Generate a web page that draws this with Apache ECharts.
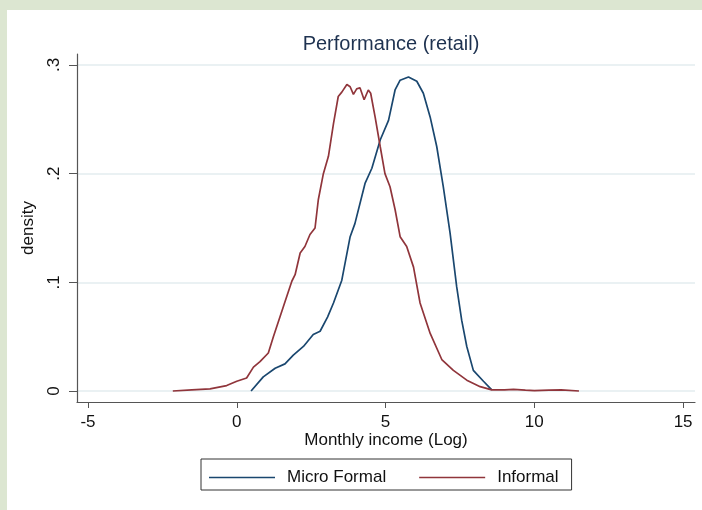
<!DOCTYPE html>
<html>
<head>
<meta charset="utf-8">
<script src="https://cdn.jsdelivr.net/npm/echarts@6/dist/echarts.min.js"></script>
<style>
  html, body { margin: 0; padding: 0; background: #dce6d1; }
  #chart { position: absolute; left: 7px; top: 10px; width: 695px; height: 500px; background: #fff; }
</style>
</head>
<body>
<div id="chart"></div>
<script>
// kernel density points: [log income, density]
const microFormal = [
  [0.48, 0], [0.89, 0.013], [1.29, 0.021], [1.62, 0.025], [1.90, 0.033],
  [2.24, 0.041], [2.57, 0.052], [2.80, 0.055], [3.05, 0.068], [3.25, 0.081],
  [3.53, 0.102], [3.81, 0.142], [3.97, 0.154], [4.31, 0.191], [4.54, 0.205],
  [4.82, 0.231], [5.10, 0.249], [5.32, 0.277], [5.49, 0.286], [5.77, 0.289],
  [6.05, 0.285], [6.27, 0.274], [6.50, 0.252], [6.72, 0.225], [6.94, 0.188],
  [7.17, 0.145], [7.39, 0.096], [7.56, 0.065], [7.73, 0.041], [7.95, 0.019],
  [8.29, 0.009], [8.57, 0.001]
];
const informal = [
  [-2.15, 0], [-1.51, 0.001], [-0.90, 0.002], [-0.34, 0.005], [0.0, 0.009],
  [0.33, 0.012], [0.56, 0.022], [0.78, 0.027], [1.06, 0.035], [1.23, 0.050],
  [1.57, 0.078], [1.85, 0.101], [1.96, 0.107], [2.13, 0.127], [2.29, 0.133],
  [2.46, 0.144], [2.63, 0.150], [2.74, 0.176], [2.91, 0.200], [3.08, 0.216],
  [3.25, 0.246], [3.41, 0.271], [3.53, 0.275], [3.70, 0.282], [3.81, 0.280],
  [3.92, 0.273], [4.03, 0.278], [4.14, 0.279], [4.28, 0.268], [4.42, 0.277],
  [4.50, 0.274], [4.65, 0.252], [4.82, 0.225], [4.98, 0.200], [5.15, 0.188],
  [5.32, 0.167], [5.49, 0.142], [5.71, 0.133], [5.94, 0.114], [6.16, 0.081],
  [6.50, 0.053], [6.89, 0.029], [7.28, 0.019], [7.73, 0.010], [8.18, 0.004],
  [8.57, 0.001], [9.0, 0.001], [9.3, 0.0015], [9.7, 0.0008], [10.0, 0.0003],
  [10.5, 0.0008], [10.9, 0.001], [11.5, 0]
];
const xTicks = [-5, 0, 5, 10, 15];
const yTicks = [0, 0.1, 0.2, 0.3];

const font = '"Liberation Sans", Arial, sans-serif';
const axisColor = '#555';

const myChart = echarts.init(document.getElementById('chart'));

const option = {
  animation: false,
  title: {
    text: 'Performance (retail)',
    left: 379,
    textAlign: 'center',
    top: 19,
    textStyle: { fontFamily: font, fontSize: 20, fontWeight: 'normal', color: '#1e3250' }
  },
  legend: {
    left: 194,
    top: 449,
    icon: 'rect',
    itemWidth: 66,
    itemHeight: 1.5,
    itemGap: 33,
    padding: [10, 13, 4, 8],
    borderColor: '#333',
    borderWidth: 1,
    textStyle: { fontFamily: font, fontSize: 17, color: '#111', padding: [0, 0, 0, 7] }
  },
  grid: { left: 70, right: 7, top: 44, bottom: 108 },
  xAxis: {
    type: 'value',
    min: -5.37,
    max: 15.40,
    name: 'Monthly income (Log)',
    nameLocation: 'middle',
    nameGap: 30,
    nameMoveOverlap: false,
    nameTextStyle: { fontFamily: font, fontSize: 17, color: '#111' },
    axisLine: { onZero: false, lineStyle: { color: axisColor, width: 1.2 } },
    axisTick: { customValues: xTicks, length: 6, lineStyle: { color: axisColor } },
    axisLabel: { customValues: xTicks, margin: 12, fontFamily: font, fontSize: 17, color: '#111' },
    splitLine: { show: false }
  },
  yAxis: {
    type: 'value',
    min: -0.0101,
    max: 0.3101,
    name: 'density',
    nameLocation: 'middle',
    nameGap: 40,
    nameMoveOverlap: false,
    nameTextStyle: { fontFamily: font, fontSize: 17, color: '#111' },
    axisLine: { show: true, onZero: false, lineStyle: { color: axisColor, width: 1.2 } },
    axisTick: { show: true, customValues: yTicks, length: 8, lineStyle: { color: axisColor } },
    axisLabel: {
      customValues: yTicks,
      rotate: 90,
      margin: 14,
      fontFamily: font,
      fontSize: 17,
      color: '#111',
      formatter: v => (v === 0 ? '0' : String(+v.toFixed(1)).replace('0.', '.'))
    },
    splitLine: { show: true, lineStyle: { color: '#e3ecef', width: 1.5 } }
  },
  series: [
    {
      name: 'Micro Formal',
      type: 'line',
      data: microFormal,
      symbol: 'none',
      color: '#1a476f',
      lineStyle: { width: 1.7, color: '#1a476f' }
    },
    {
      name: 'Informal',
      type: 'line',
      data: informal,
      symbol: 'none',
      color: '#90353b',
      lineStyle: { width: 1.7, color: '#90353b' }
    }
  ]
};

myChart.setOption(option);
</script>
</body>
</html>
